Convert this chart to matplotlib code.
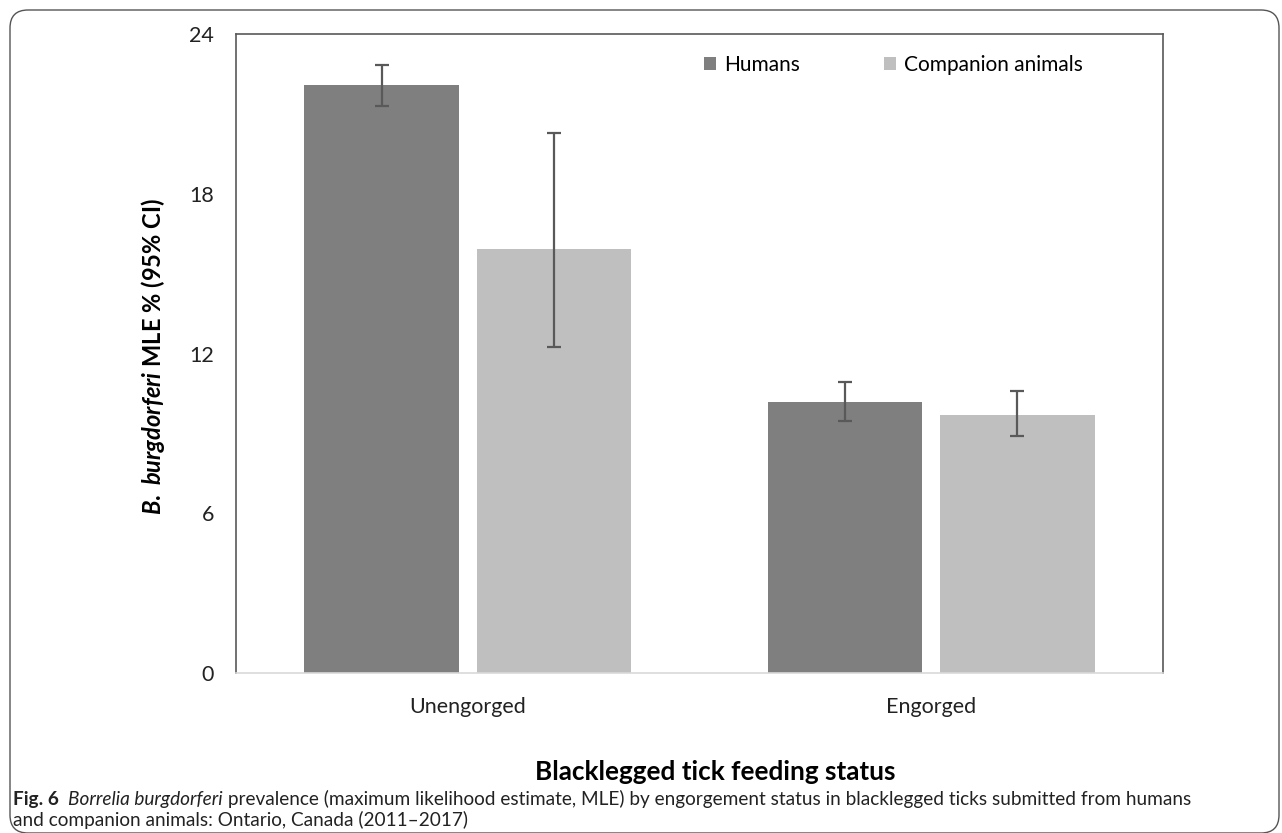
import matplotlib
matplotlib.use("Agg")
import matplotlib.pyplot as plt
import numpy as np
from matplotlib.patches import FancyBboxPatch
from matplotlib.transforms import IdentityTransform

# Daten
categories = ["Unengorged", "Engorged"]
series = ["Humans", "Companion animals"]
humans = [22.08, 10.19]
humans_lo = [21.31, 9.46]
humans_hi = [22.85, 10.92]
companion = [15.92, 9.69]
companion_lo = [12.26, 8.89]
companion_hi = [20.28, 10.59]
yticks = [0, 6, 12, 18, 24]

plt.rcParams['font.family'] = ['Lato', 'DejaVu Sans']
plt.rcParams['mathtext.fontset'] = 'custom'
plt.rcParams['mathtext.it'] = 'Lato:italic:bold'
plt.rcParams['mathtext.rm'] = 'Lato:bold'

fig = plt.figure(figsize=(12.82, 8.33), dpi=100)
ax = fig.add_axes([236/1282, 1-673/833, (1163-236)/1282, (673-34)/833])

x = np.arange(len(categories))
w = 0.333
off = 0.186
ecol = '#595959'

err_h = [np.array(humans) - np.array(humans_lo), np.array(humans_hi) - np.array(humans)]
err_c = [np.array(companion) - np.array(companion_lo), np.array(companion_hi) - np.array(companion)]

ax.bar(x - off, humans, w, color='#7f7f7f', label=series[0],
       yerr=err_h, error_kw=dict(ecolor=ecol, elinewidth=1.6, capsize=5, capthick=1.6))
ax.bar(x + off, companion, w, color='#bfbfbf', label=series[1],
       yerr=err_c, error_kw=dict(ecolor=ecol, elinewidth=1.6, capsize=5, capthick=1.6))

ax.set_xlim(-0.5, 1.5)
ax.set_ylim(0, 24)
ax.set_yticks(yticks)
ax.set_xticks(x)
ax.set_xticklabels(categories)
ax.tick_params(axis='both', length=0, labelsize=15.5, colors='#222222')
ax.tick_params(axis='y', pad=16)
ax.tick_params(axis='x', pad=17)

for s in ['left', 'top', 'right']:
    ax.spines[s].set_color('#595959')
    ax.spines[s].set_linewidth(1.2)
ax.spines['bottom'].set_color('#d9d9d9')
ax.spines['bottom'].set_linewidth(1.2)

# Achsentitel
fig.text(153/1282, 1-357/833, r"$\mathit{B.\ burgdorferi}$ MLE % (95% CI)",
         rotation=90, ha='center', va='center', fontsize=17, fontweight='bold')
fig.text(715/1282, 1-772/833, "Blacklegged tick feeding status",
         ha='center', va='center', fontsize=18.8, fontweight='bold')

# Legende
fig.legend(loc='center left', bbox_to_anchor=(704/1282, 1-65/833), ncol=2,
           frameon=False, fontsize=15, handlelength=0.58, handleheight=0.58,
           handletextpad=0.4, columnspacing=4.0, borderaxespad=0, borderpad=0)

# Bildunterschrift
cap_font = ['Lato', 'DejaVu Sans']
renderer = fig.canvas.get_renderer()

def draw_pieces(pieces, x0, y0, size):
    xx = x0
    for txt, style, weight in pieces:
        t = fig.text(xx / 1282, 1 - y0 / 833, txt, fontsize=size, family=cap_font,
                     style=style, weight=weight, va='baseline', ha='left', color='#222222')
        bb = t.get_window_extent(renderer=renderer)
        xx = bb.x1

draw_pieces([("Fig. 6  ", 'normal', 'bold'),
             ("Borrelia burgdorferi", 'italic', 'normal'),
             (" prevalence (maximum likelihood estimate, MLE) by engorgement status in blacklegged ticks submitted from humans", 'normal', 'normal')],
            13, 805, 13.7)
draw_pieces([("and companion animals: Ontario, Canada (2011\u20132017)", 'normal', 'normal')],
            13, 826, 13.7)

# Rahmen
frame = FancyBboxPatch((10, 0), 1269, 823, boxstyle="round,pad=0,rounding_size=18",
                       transform=IdentityTransform(), fill=False, edgecolor='#555555',
                       linewidth=1.0)
fig.patches.append(frame)

plt.savefig('out.png', dpi=100)
